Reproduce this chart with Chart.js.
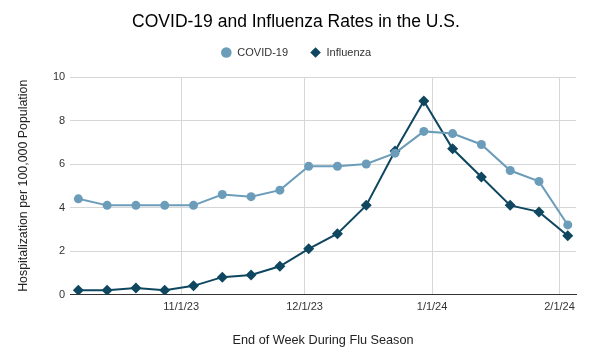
<!DOCTYPE html>
<html>
<head>
<meta charset="utf-8">
<script src="https://cdn.jsdelivr.net/npm/chart.js@4"></script>
<style>
	html, body { margin: 0; padding: 0; background: #fff; }
	#wrap { width: 614px; height: 352px; }
</style>
</head>
<body>
<div id="wrap"><canvas id="rates-chart" width="614" height="352"></canvas></div>
<script>
const weekEnding = ["10/7/23", "10/14/23", "10/21/23", "10/28/23", "11/4/23", "11/11/23", "11/18/23", "11/25/23", "12/2/23", "12/9/23", "12/16/23", "12/23/23", "12/30/23", "1/6/24", "1/13/24", "1/20/24", "1/27/24", "2/3/24"];
const covid = [4.4, 4.1, 4.1, 4.1, 4.1, 4.6, 4.5, 4.8, 5.9, 5.9, 6.0, 6.5, 7.5, 7.4, 6.9, 5.7, 5.2, 3.2];
const influenza = [0.2, 0.2, 0.3, 0.2, 0.4, 0.8, 0.9, 1.3, 2.1, 2.8, 4.1, 6.6, 8.9, 6.7, 5.4, 4.1, 3.8, 2.7];
const tickLabels = ["11/1/23", "12/1/23", "1/1/24", "2/1/24"];
const xRange = ["10/5/23", "2/5/24"];

// m/d/yy -> day number
function toDay(s) {
	const [m, d, y] = s.split("/").map(Number);
	return Date.UTC(2000 + y, m - 1, d) / 86400000;
}

const font = "'Liberation Sans', Arial, sans-serif";
const ctx = document.getElementById("rates-chart");

new Chart(ctx, {
	type: "line",
	data: {
		datasets: [
			{
				label: "COVID-19",
				data: weekEnding.map((w, i) => ({ x: toDay(w), y: covid[i] })),
				xAxisID: "x",
				yAxisID: "y",
				borderColor: "#6b9dba",
				backgroundColor: "#6b9dba",
				borderWidth: 2,
				pointStyle: "circle",
				pointRadius: 4.5,
				pointBorderWidth: 0,
			},
			{
				label: "Influenza",
				data: weekEnding.map((w, i) => ({ x: toDay(w), y: influenza[i] })),
				xAxisID: "x",
				yAxisID: "y",
				borderColor: "#0f4760",
				backgroundColor: "#0f4760",
				borderWidth: 2,
				pointStyle: "rectRot",
				pointRadius: 5.5,
				pointBorderWidth: 0,
			},
		],
	},
	options: {
		responsive: false,
		animation: false,
		layout: {
			padding: { left: 16, right: 38, top: 8, bottom: 4 },
		},
		plugins: {
			title: {
				display: true,
				text: "COVID-19 and Influenza Rates in the U.S.",
				color: "#000",
				font: { family: font, size: 17.5, weight: "normal" },
				padding: { top: 4, bottom: -8 },
			},
			legend: {
				display: true,
				labels: {
					usePointStyle: true,
					boxWidth: 11,
					boxHeight: 7.5,
					color: "#333",
					font: { family: font, size: 11 },
					padding: 22,
				},
			},
			tooltip: { enabled: false },
		},
		scales: {
			x: {
				type: "linear",
				min: toDay(xRange[0]),
				max: toDay(xRange[1]),
				afterBuildTicks: (scale) => {
					scale.ticks = tickLabels.map((t) => ({ value: toDay(t) }));
				},
				ticks: {
					callback: (v) => tickLabels.find((t) => toDay(t) === v) || "",
					color: "#333",
					font: { family: font, size: 11 },
					maxRotation: 0,
					padding: 6,
				},
				grid: { color: "#d6d6d6", drawTicks: false },
				border: { display: true, color: "#333" },
				title: {
					display: true,
					text: "End of Week During Flu Season",
					color: "#222",
					font: { family: font, size: 12.7 },
					padding: { top: 13, bottom: 0 },
				},
			},
			// empty axis, only keeps a gap between legend and plot
			gap: {
				type: "linear",
				position: "top",
				grid: { display: false },
				ticks: { display: false },
				border: { display: false },
				afterFit: (s) => {
					s.height = 9;
				},
			},
			y: {
				min: 0,
				max: 10,
				ticks: {
					stepSize: 2,
					color: "#333",
					font: { family: font, size: 11 },
					padding: 5,
				},
				grid: { color: "#d6d6d6", drawTicks: false },
				border: { display: false },
				title: {
					display: true,
					text: "Hospitalization per 100,000 Population",
					color: "#222",
					font: { family: font, size: 12.4 },
					padding: { top: 0, bottom: 17 },
				},
			},
		},
	},
});
</script>
</body>
</html>
